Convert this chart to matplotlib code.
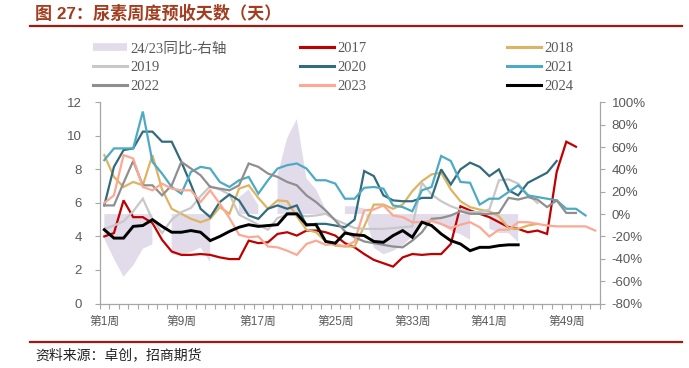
import numpy as np
import matplotlib.pyplot as plt
from matplotlib.lines import Line2D

plt.rcParams['font.family'] = ['Liberation Sans', 'Noto Sans CJK SC']

# 周度数据（天），第1周起
weeks = np.arange(1, 53)
y2017 = [4.0, 4.2, 6.15, 5.15, 5.15, 4.8, 3.8, 3.1, 2.9, 2.9, 2.95, 2.9, 2.75, 2.65, 2.65, 3.75, 3.6, 3.65,
         4.15, 4.25, 4.05, 4.35, 4.35, 4.25, 4.05, 3.6, 3.35, 2.95, 2.6, 2.4, 2.2, 2.75, 2.95, 2.9, 2.95,
         2.95, 3.55, 5.8, 5.55, 5.35, 5.15, 4.85, 4.55, 4.45, 4.25, 4.35, 4.15, 7.85, 9.65, 9.35]
y2018 = [8.85, 7.55, 6.95, 7.25, 7.05, 8.85, 6.8, 5.65, 5.35, 5.05, 4.85, 5.05, 5.75, 5.35, 6.85, 7.05,
         6.3, 5.65, 6.15, 6.1, 5.2, 4.4, 4.25, 3.7, 3.45, 3.4, 3.4, 4.6, 5.9, 5.9, 5.65, 5.9, 6.7, 7.3,
         7.7, 7.8, 6.8, 6.1, 5.75, 5.6, 5.5, 5.2, 4.5, 4.45, 4.65, 4.75]
y2019 = [4.45, 4.65, 4.9, 5.5, 6.25, 5.0, 4.2, 5.0, 5.45, 5.7, 6.4, 7.0, 6.8, 6.5, 5.3, 5.0, 4.7, 4.4,
         5.1, 5.3, 5.3, 5.2, 5.25, 5.35, 5.0, 4.75, 4.5, 4.45, 4.45, 4.45, 4.5, 4.55, 4.6, 7.2, 6.5, 6.1,
         5.8, 5.6, 5.45, 5.45, 5.6, 7.35, 7.4, 7.15, 6.5, 6.0]
y2020 = [5.85, 8.15, 9.15, 9.25, 10.25, 10.25, 9.65, 9.65, 8.45, 7.1, 5.65, 5.15, 6.05, 6.5, 6.15, 5.25,
         5.05, 5.65, 5.85, 5.65, 5.85, 4.65, 4.75, 4.75, 4.65, 4.55, 5.0, 7.9, 7.6, 6.45, 6.15, 6.1, 6.1,
         6.3, 6.3, 8.0, 7.1, 8.0, 8.4, 8.15, 7.6, 8.0, 6.75, 6.45, 7.2, 7.5, 7.8, 8.5]
y2021 = [8.55, 9.25, 9.25, 9.25, 11.45, 8.45, 7.75, 6.95, 6.55, 7.85, 8.15, 8.05, 7.25, 6.95, 7.35, 7.55,
         6.55, 7.35, 8.05, 8.25, 8.35, 8.05, 7.35, 7.35, 7.15, 6.25, 6.25, 6.9, 6.95, 6.85, 5.85, 5.75,
         5.5, 6.75, 6.95, 8.8, 8.5, 7.25, 7.2, 5.9, 6.25, 6.25, 6.65, 7.05, 6.45, 6.35, 6.25, 6.15, 5.65,
         5.65, 5.25]
y2022 = [5.85, 5.85, 7.2, 8.5, 7.05, 7.05, 6.45, 7.05, 8.45, 8.05, 7.65, 6.95, 6.85, 6.75, 7.05, 8.35,
         8.15, 7.75, 7.55, 7.25, 7.05, 6.45, 6.05, 5.55, 4.95, 4.3, 3.95, 3.7, 3.6, 3.5, 3.4, 3.35, 3.75,
         4.25, 5.05, 5.1, 5.25, 5.5, 5.35, 5.35, 5.35, 5.4, 6.3, 6.2, 6.35, 6.2, 5.75, 6.15, 5.4, 5.4]
y2023 = [6.0, 6.45, 8.85, 8.65, 6.95, 6.75, 7.15, 6.85, 6.75, 6.75, 6.05, 6.75, 5.95, 5.1, 4.1, 3.95,
         4.0, 3.4, 3.35, 3.15, 2.9, 3.55, 3.75, 3.5, 3.55, 3.4, 3.7, 5.55, 5.6, 5.85, 5.25, 5.15, 4.85,
         4.85, 4.95, 4.75, 4.5, 4.7, 4.85, 4.55, 4.0, 4.4, 4.4, 4.85, 4.85, 4.75, 4.65, 4.6, 4.6, 4.6,
         4.6, 4.35]
y2024 = [4.4, 3.9, 3.9, 4.6, 4.65, 5.0, 4.6, 4.25, 4.25, 4.35, 4.25, 3.75, 4.0, 4.3, 4.55, 4.7, 4.6,
         4.65, 4.7, 5.35, 5.35, 4.7, 4.7, 3.7, 3.6, 4.2, 4.1, 4.05, 3.7, 3.65, 4.05, 4.35, 3.95, 4.85,
         4.65, 4.15, 3.75, 3.55, 3.15, 3.35, 3.35, 3.45, 3.5, 3.5]
# 24/23同比（%），None 为缺失
yoy = [-22, -40, -56, -46, -31, -27, None, -36, -36, -34, -30, -43, None, None, 15, 22, 8, None, 35, 68,
       85, 32, 22, 4, None, 7, 7, 5, -30, -36, -33, -28, -20, -6, -8, -10, -15, -18, -23, None,
       -13, -17, -17, -25]

series = [('2017', y2017, '#C00000'), ('2018', y2018, '#DDB463'), ('2019', y2019, '#C8C8C8'),
          ('2020', y2020, '#326B7C'), ('2021', y2021, '#4DAAC4'), ('2022', y2022, '#8F8F8F'),
          ('2023', y2023, '#FCA893'), ('2024', y2024, '#000000')]
area_color = '#E2DBEA'
grey = '#595959'
spine_c = '#A6A6A6'

fig = plt.figure(figsize=(6.89, 3.68), dpi=100)
ax = fig.add_axes([99.5 / 689, 1 - 303.5 / 368, 500.5 / 689, 201.2 / 368])
ax_r = ax.twinx()
ax.set_zorder(2)
ax_r.set_zorder(1)
ax.patch.set_visible(False)

yoy_arr = np.array([np.nan if v is None else v for v in yoy], dtype=float)
ax_r.fill_between(weeks[:len(yoy_arr)], 0, yoy_arr, color=area_color, lw=0)

handles = {}
for name, vals, c in series:
    lw = 2.1 if name == '2024' else 1.6
    ax.plot(weeks[:len(vals)], vals, color=c, lw=lw, solid_joinstyle='miter')
    handles[name] = Line2D([], [], color=c, lw=2.2)
handles['area'] = Line2D([], [], color=area_color, lw=5.5, solid_capstyle='butt')

ax.set_xlim(0.5, 52.5)
ax.set_ylim(0, 12)
ax_r.set_ylim(-80, 100)

ax.set_yticks(range(0, 13, 2))
ax_r.set_yticks(range(-80, 101, 20))
ax_r.set_yticklabels([f'{v}%' for v in range(-80, 101, 20)])

ax.set_xticks([1, 9, 17, 25, 33, 41, 49])
ax.set_xticklabels([f'第{w}周' for w in [1, 9, 17, 25, 33, 41, 49]])
ax.set_xticks(np.arange(0.5, 53, 1), minor=True)
ax.tick_params(axis='x', which='major', length=0, pad=9, labelsize=8.5, labelcolor=grey)
ax.tick_params(axis='x', which='minor', length=3.5, width=0.8, color=spine_c, direction='out')
ax.tick_params(axis='y', length=3.5, width=0.8, color=spine_c, pad=9, labelsize=9.5, labelcolor=grey)
ax_r.tick_params(axis='y', length=3.5, width=0.8, color=spine_c, pad=5, labelsize=9.5, labelcolor=grey)

for s in ['top', 'right']:
    ax.spines[s].set_visible(False)
for s in ['left', 'bottom']:
    ax.spines[s].set_color(spine_c)
    ax.spines[s].set_linewidth(0.9)
for s in ['top', 'left', 'bottom']:
    ax_r.spines[s].set_visible(False)
ax_r.spines['right'].set_color(spine_c)
ax_r.spines['right'].set_linewidth(0.9)

# 图例：三列分别放置
cols = [(['area', '2019', '2022'], ['24/23同比-右轴', '2019', '2022'], 93),
        (['2017', '2020', '2023'], ['2017', '2020', '2023'], 300),
        (['2018', '2021', '2024'], ['2018', '2021', '2024'], 507)]
for keys, labels, x0 in cols:
    leg = fig.legend([handles[k] for k in keys], labels, loc='upper left',
                     bbox_to_anchor=(x0 / 689, 1 - 42 / 368), frameon=False, borderpad=0,
                     borderaxespad=0, handlelength=2.3, handletextpad=0.25, labelspacing=0.4,
                     prop={'family': ['Liberation Serif', 'Noto Sans CJK SC'], 'size': 10.5})
    for t in leg.get_texts():
        t.set_color(grey)

# 标题与来源
fig.text(35 / 689, 1 - 13 / 368, '图 27：尿素周度预收天数（天）', fontsize=12.3, weight='bold',
         color='#A33D1F', va='center', ha='left')
fig.add_artist(Line2D([30 / 689, 682 / 689], [1 - 26 / 368] * 2, color='#9E1B14', lw=1.6))
fig.add_artist(Line2D([30 / 689, 682 / 689], [1 - 341.5 / 368] * 2, color='#9E1B14', lw=1.6))
fig.text(35 / 689, 1 - 355 / 368, '资料来源：卓创，招商期货', fontsize=10, color='#222222',
         va='center', ha='left')

fig.savefig('out.png', dpi=100)
